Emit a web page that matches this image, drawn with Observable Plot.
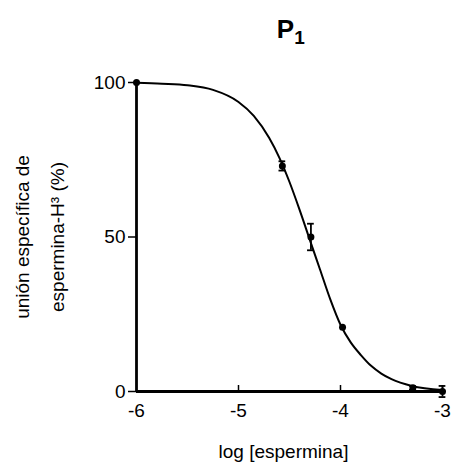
<!DOCTYPE html>
<html>
<head>
<meta charset="utf-8">
<script src="https://cdn.jsdelivr.net/npm/d3@7"></script>
<script src="https://cdn.jsdelivr.net/npm/@observablehq/plot@0.6"></script>
<style>
  html, body { margin: 0; padding: 0; background: #fff; }
  svg { font-family: "Liberation Sans", Arial, sans-serif; }
</style>
</head>
<body>
<div id="chart"></div>
<script>
// Tick labels
const xTicks = [-6, -5, -4, -3];
const yTicks = [0, 50, 100];

// Measured points: log[espermina], mean % specific binding, error
const pointLog = [-6, -4.57, -4.29, -3.98, -3.29, -3.0];
const pointMean = [100, 73, 50, 20.8, 1.2, 0];
const pointErr = [0, 1.5, 4.3, 0, 0.6, 1.8];

// Fitted curve
const curveLog = [-6, -5.75, -5.5, -5.25, -5.0, -4.85, -4.7, -4.6, -4.5, -4.4, -4.3, -4.2, -4.1, -4.0, -3.9, -3.8, -3.7, -3.6, -3.5, -3.3, -3.0];
const curveVal = [99.9, 99.6, 99.1, 97.6, 93.7, 89.2, 82.1, 75.7, 67.8, 58.7, 49.0, 39.4, 29.8, 21.6, 15.9, 11.8, 8.3, 5.8, 4.0, 1.8, 0.5];

const titleMain = "P";
const titleSub = "1";
const yLabel1 = "unión específica de";
const yLabel2 = "espermina-H³ (%)";
const xLabel = "log [espermina]";

const points = pointLog.map((x, i) => ({x, y: pointMean[i], e: pointErr[i]}));
const errPts = points.filter(d => d.e > 0);
const curve = curveLog.map((x, i) => ({x, y: curveVal[i]}));

const font = "Liberation Sans, Arial, sans-serif";
const capW = 0.033;

const plot = Plot.plot({
  width: 454,
  height: 465,
  marginLeft: 136,
  marginRight: 12,
  marginTop: 82,
  marginBottom: 74,
  style: {fontFamily: font, fontSize: "19px", color: "#000", background: "#fff"},
  x: {domain: [-6, -3]},
  y: {domain: [0, 100]},
  marks: [
    Plot.axisY({ticks: yTicks, tickSize: 8, tickPadding: 3, label: null, fontSize: 19, strokeWidth: 1.5}),
    Plot.axisX({ticks: xTicks, tickSize: 0, tickPadding: 12, tickFormat: d => String(d), label: null, fontSize: 19}),
    Plot.ruleX(xTicks.slice(1), {y1: 0, y2: 0, insetTop: -6, stroke: "#000", strokeWidth: 1.5}),
    Plot.ruleX([-6], {stroke: "#000", strokeWidth: 2.8}),
    Plot.ruleY([0], {stroke: "#000", strokeWidth: 2.8}),
    Plot.line(curve, {x: "x", y: "y", curve: "monotone-x", stroke: "#000", strokeWidth: 2}),
    Plot.ruleX(errPts, {x: "x", y1: d => d.y - d.e, y2: d => d.y + d.e, stroke: "#000", strokeWidth: 1.8}),
    Plot.ruleY(errPts, {y: d => d.y + d.e, x1: d => d.x - capW, x2: d => d.x + capW, stroke: "#000", strokeWidth: 1.8}),
    Plot.ruleY(errPts, {y: d => d.y - d.e, x1: d => d.x - capW, x2: d => d.x + capW, stroke: "#000", strokeWidth: 1.8}),
    Plot.dot(points, {x: "x", y: "y", r: 3.5, fill: "#000", stroke: "none"}),
    Plot.text([titleMain], {text: d => d, frameAnchor: "top", dx: -4, dy: -45, lineAnchor: "bottom", fontSize: 26, fontWeight: "bold"}),
    Plot.text([titleSub], {text: d => d, frameAnchor: "top", dx: 10, dy: -39, lineAnchor: "bottom", fontSize: 19, fontWeight: "bold"}),
    Plot.text([xLabel], {text: d => d, frameAnchor: "bottom", dx: -6, dy: 66, lineAnchor: "bottom", textAnchor: "middle", fontSize: 19}),
    Plot.text([yLabel1], {text: d => d, frameAnchor: "left", dx: -114, rotate: -90, textAnchor: "middle", fontSize: 19}),
    Plot.text([yLabel2], {text: d => d, frameAnchor: "left", dx: -79, rotate: -90, textAnchor: "middle", fontSize: 19})
  ]
});
document.getElementById("chart").appendChild(plot);
</script>
</body>
</html>
